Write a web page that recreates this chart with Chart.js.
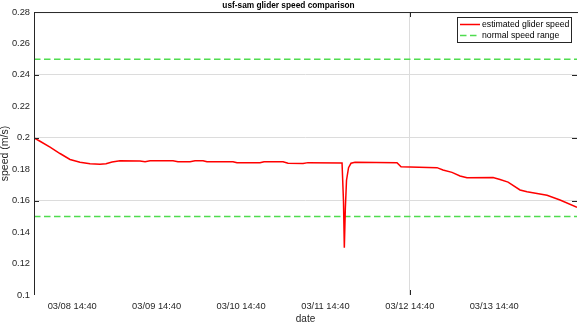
<!DOCTYPE html>
<html>
<head>
<meta charset="utf-8">
<title>usf-sam glider speed comparison</title>
<script src="https://cdn.jsdelivr.net/npm/chart.js@4.4.1/dist/chart.umd.min.js"></script>
<style>
  html, body { margin: 0; padding: 0; background: #fff; }
  #chart { display: block; }
</style>
</head>
<body>
<canvas id="chart" width="578" height="322"></canvas>
<script>
// time in days after 03/08 14:40
const sampleDays = [
  -0.453, -0.382, -0.263, -0.145, -0.026, 0.092, 0.211, 0.329, 0.400, 0.472,
  0.566, 0.803, 0.863, 0.922, 1.194, 1.253, 1.396, 1.455, 1.550, 1.597,
  1.905, 1.953, 2.225, 2.273, 2.498, 2.557, 2.735, 2.794, 3.197, 3.214,
  3.224, 3.236, 3.250, 3.274, 3.303, 3.351, 3.848, 3.896, 4.322, 4.393,
  4.500, 4.595, 4.678, 4.986, 5.069, 5.164, 5.306, 5.389, 5.626, 5.780,
  5.981
];
const gliderSpeed = [
  0.2000, 0.1978, 0.1940, 0.1900, 0.1862, 0.1844, 0.1835, 0.1831, 0.1835, 0.1846,
  0.1854, 0.1852, 0.1848, 0.1854, 0.1854, 0.1848, 0.1848, 0.1854, 0.1854, 0.1848,
  0.1848, 0.1842, 0.1842, 0.1848, 0.1848, 0.1838, 0.1836, 0.1842, 0.1840, 0.1600,
  0.1300, 0.1550, 0.1730, 0.1810, 0.1838, 0.1844, 0.1842, 0.1816, 0.1810, 0.1795,
  0.1780, 0.1757, 0.1746, 0.1748, 0.1735, 0.1718, 0.1668, 0.1657, 0.1634, 0.1604,
  0.1558
];
const rangeDays = [-0.453, 5.981];
const upperSpeed = [0.25, 0.25];
const lowerSpeed = [0.15, 0.15];

const xTickValues = [0, 1, 2, 3, 4, 5];
const xTickLabels = ["03/08 14:40", "03/09 14:40", "03/10 14:40", "03/11 14:40", "03/12 14:40", "03/13 14:40"];
const yTickValues = [0.1, 0.12, 0.14, 0.16, 0.18, 0.2, 0.22, 0.24, 0.26, 0.28];
const yTickLabels = ["0.1", "0.12", "0.14", "0.16", "0.18", "0.2", "0.22", "0.24", "0.26", "0.28"];

const markedY = [0.16, 0.2, 0.24];
const markedXIndex = 4;

const AXIS_COLOR = "#262626";
const GRID_COLOR = "#dcdcdc";
const FONT = "'Liberation Sans', Arial, sans-serif";

function toPoints(xs, ys) {
  return xs.map((x, i) => ({ x, y: ys[i] }));
}

function isMarkedY(value) {
  return markedY.some((v) => Math.abs(v - value) < 1e-6);
}

const framePlugin = {
  id: "frame",
  afterDraw(chart) {
    const { ctx, chartArea: a, scales } = chart;
    const x = scales.x;
    const y = scales.y;
    ctx.save();
    ctx.strokeStyle = AXIS_COLOR;
    ctx.lineWidth = 1;
    ctx.beginPath();
    // top and left box lines
    ctx.moveTo(a.left, a.top + 0.5);
    ctx.lineTo(chart.width, a.top + 0.5);
    ctx.moveTo(a.left + 0.5, a.top);
    ctx.lineTo(a.left + 0.5, a.bottom);
    // inner tick marks
    markedY.forEach((v) => {
      const py = Math.round(y.getPixelForValue(v)) + 0.5;
      ctx.moveTo(a.left, py);
      ctx.lineTo(a.left + 5, py);
      ctx.moveTo(a.right - 5, py);
      ctx.lineTo(a.right, py);
    });
    const px = Math.round(x.getPixelForValue(xTickValues[markedXIndex])) + 0.5;
    ctx.moveTo(px, a.top);
    ctx.lineTo(px, a.top + 5);
    ctx.moveTo(px, a.bottom - 5);
    ctx.lineTo(px, a.bottom);
    ctx.stroke();

    // legend box
    const lx = 457.5, ly = 17.5, lw = 114, lh = 25;
    ctx.fillStyle = "#fff";
    ctx.fillRect(lx, ly, lw, lh);
    ctx.strokeRect(lx, ly, lw, lh);
    const entries = chart.data.datasets.filter((d) => !d.hideInLegend);
    ctx.font = "8.7px " + FONT;
    ctx.textBaseline = "middle";
    ctx.textAlign = "left";
    entries.forEach((d, i) => {
      const rowY = 24.5 + i * 11;
      ctx.save();
      ctx.strokeStyle = d.borderColor;
      ctx.lineWidth = d.borderWidth;
      ctx.setLineDash(d.borderDash || []);
      ctx.beginPath();
      ctx.moveTo(460, rowY);
      ctx.lineTo(480, rowY);
      ctx.stroke();
      ctx.restore();
      ctx.fillStyle = "#000";
      ctx.fillText(d.label, 482, rowY + 0.5);
    });
    ctx.restore();
  },
};

new Chart(document.getElementById("chart"), {
  type: "line",
  data: {
    datasets: [
      {
        label: "estimated glider speed",
        data: toPoints(sampleDays, gliderSpeed),
        borderColor: "#ff0000",
        borderWidth: 1.5,
        pointRadius: 0,
        tension: 0,
        order: 0,
      },
      {
        label: "normal speed range",
        data: toPoints(rangeDays, upperSpeed),
        borderColor: "#4fdc4f",
        borderWidth: 1.5,
        borderDash: [6.5, 3.5],
        pointRadius: 0,
        order: 1,
      },
      {
        label: "normal speed range",
        hideInLegend: true,
        data: toPoints(rangeDays, lowerSpeed),
        borderColor: "#4fdc4f",
        borderWidth: 1.5,
        borderDash: [6.5, 3.5],
        pointRadius: 0,
        order: 1,
      },
    ],
  },
  options: {
    responsive: false,
    animation: false,
    devicePixelRatio: 1,
    layout: { padding: { left: 0, right: 1, top: 0, bottom: 0 } },
    plugins: {
      legend: { display: false },
      tooltip: { enabled: false },
      title: {
        display: true,
        text: "usf-sam glider speed comparison",
        color: "#000",
        font: { family: FONT, size: 8.3, weight: "bold", lineHeight: 1.45 },
        padding: 0,
      },
    },
    scales: {
      x: {
        type: "linear",
        min: rangeDays[0],
        max: rangeDays[1],
        afterBuildTicks: (scale) => {
          scale.ticks = xTickValues.map((value) => ({ value }));
        },
        afterFit: (scale) => {
          scale.height = 27;
        },
        border: { display: false },
        grid: {
          drawTicks: false,
          lineWidth: 1,
          color: (c) => (c.index === markedXIndex ? GRID_COLOR : "rgba(0,0,0,0)"),
        },
        ticks: {
          autoSkip: false,
          maxRotation: 0,
          padding: 6,
          color: AXIS_COLOR,
          font: { family: FONT, size: 9.3 },
          callback: (value, index) => xTickLabels[index],
        },
        title: {
          display: true,
          text: "date",
          color: AXIS_COLOR,
          font: { family: FONT, size: 10, lineHeight: 0.6 },
          padding: 0,
        },
      },
      y: {
        type: "linear",
        min: yTickValues[0],
        max: yTickValues[yTickValues.length - 1],
        afterBuildTicks: (scale) => {
          scale.ticks = yTickValues.map((value) => ({ value }));
        },
        afterFit: (scale) => {
          scale.width = 34;
        },
        border: { display: false },
        grid: {
          drawTicks: false,
          lineWidth: 1,
          color: (c) => (c.tick && isMarkedY(c.tick.value) ? GRID_COLOR : "rgba(0,0,0,0)"),
        },
        ticks: {
          padding: 4,
          color: AXIS_COLOR,
          font: { family: FONT, size: 9.3 },
          callback: (value, index) => yTickLabels[index],
        },
        title: {
          display: true,
          text: "speed (m/s)",
          color: AXIS_COLOR,
          font: { family: FONT, size: 10.5, lineHeight: 1 },
          padding: 0,
        },
      },
    },
  },
  plugins: [framePlugin],
});
</script>
</body>
</html>
